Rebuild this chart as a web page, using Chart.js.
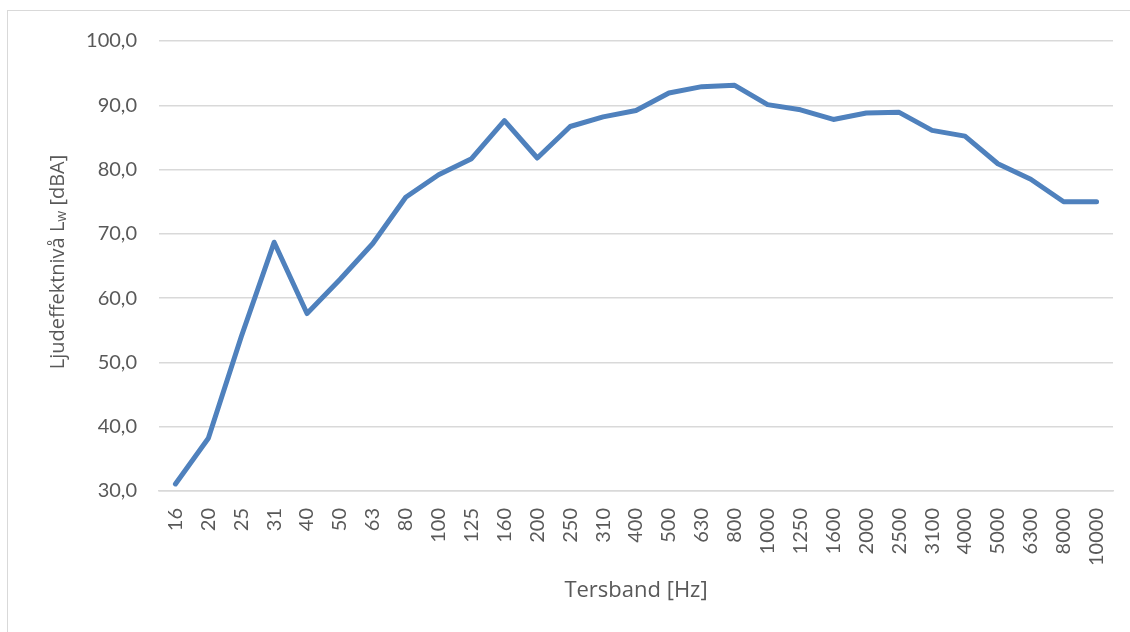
<!DOCTYPE html>
<html>
<head>
<meta charset="utf-8">
<script src="https://cdn.jsdelivr.net/npm/chart.js@4/dist/chart.umd.min.js"></script>
<style>
  body { margin: 0; background: #fff; overflow: hidden; }
  #frame { position: absolute; left: 7px; top: 10px; width: 1140px; height: 640px; border: 1px solid #d9d9d9; }
  #chart1 { position: absolute; left: 0; top: 0; }
</style>
</head>
<body>
<div id="frame"></div>
<canvas id="chart1" width="1130" height="632"></canvas>
<script>
const bands = ['16', '20', '25', '31', '40', '50', '63', '80', '100', '125', '160', '200', '250', '310', '400',
  '500', '630', '800', '1000', '1250', '1600', '2000', '2500', '3100', '4000', '5000', '6300', '8000', '10000'];

const levels = [31.1, 38.2, 54.0, 68.7, 57.6, 62.9, 68.5, 75.7, 79.2, 81.7, 87.6, 81.8, 86.7, 88.2, 89.2,
  91.9, 92.9, 93.1, 90.1, 89.3, 87.8, 88.8, 88.9, 86.1, 85.2, 80.9, 78.5, 75.0, 75.0];

const FONT = 'Lato, "Open Sans", sans-serif';
const TFONT = '"Open Sans", Lato, sans-serif';
const GREY = '#595959';

// y title with subscript w, Chart.js has no rich text so draw it by hand
const yTitle = {
  id: 'yTitle',
  afterDraw(chart) {
    const c = chart.ctx;
    const parts = [['Ljudeffektnivå L', 20, 0], ['w', 14, 4], [' [dBA]', 20, 0]];
    c.save();
    c.fillStyle = GREY;
    c.textBaseline = 'middle';
    c.textAlign = 'left';
    let total = 0;
    parts.forEach(p => { c.font = p[1] + 'px ' + TFONT; total += c.measureText(p[0]).width; });
    c.translate(58, 262);
    c.rotate(-Math.PI / 2);
    let x = -total / 2;
    parts.forEach(p => {
      c.font = p[1] + 'px ' + TFONT;
      c.fillText(p[0], x, p[2]);
      x += c.measureText(p[0]).width;
    });
    c.restore();
  }
};

new Chart(document.querySelector('#chart1'), {
  type: 'line',
  data: {
    labels: bands,
    datasets: [{
      data: levels,
      borderColor: '#4f81bd',
      borderWidth: 5,
      pointRadius: 0,
      tension: 0,
      borderCapStyle: 'round',
      borderJoinStyle: 'round'
    }]
  },
  options: {
    responsive: false,
    animation: false,
    devicePixelRatio: 1,
    layout: { padding: { top: 41, right: 17, bottom: 24, left: 0 } },
    plugins: { legend: { display: false }, tooltip: { enabled: false } },
    scales: {
      x: {
        offset: true,
        grid: { display: false },
        border: { color: '#d9d9d9', width: 1.5 },
        ticks: { color: GREY, font: { family: FONT, size: 20 }, minRotation: 90, maxRotation: 90, padding: 9, autoSkip: false },
        title: { display: true, text: 'Tersband [Hz]', color: GREY, font: { family: TFONT, size: 22 } },
        afterFit: (s) => { s.height = 117; }
      },
      y: {
        min: 30,
        max: 100,
        grid: { color: '#d9d9d9', lineWidth: 1.5, drawTicks: false },
        border: { display: false },
        ticks: {
          stepSize: 10,
          padding: 22,
          color: GREY,
          font: { family: FONT, size: 20 },
          callback: (v) => v.toFixed(1).replace('.', ',')
        },
        afterFit: (s) => { s.width = 159; }
      }
    }
  },
  plugins: [yTitle]
});
</script>
</body>
</html>
